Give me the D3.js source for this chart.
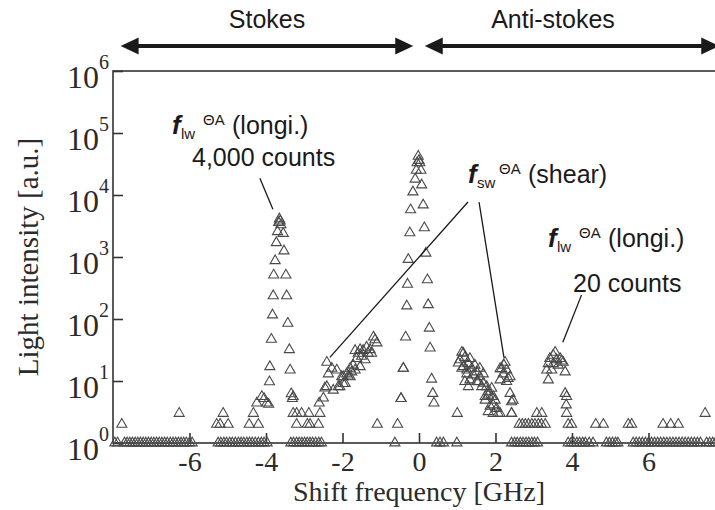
<!DOCTYPE html>
<html>
<head>
<meta charset="utf-8">
<script src="https://cdn.jsdelivr.net/npm/d3@7"></script>
<style>
  html, body { margin: 0; padding: 0; background: #fff; }
  svg { display: block; }
</style>
</head>
<body>
<svg id="chart" width="715" height="510"></svg>
<script>
// ---- Brillouin spectrum: [shift (GHz), light intensity (counts)] ----

// detector floor (1 count) on the Stokes side
const stokesFloor = [
  [-7.95,1],[-7.88,1],[-7.7,1],[-7.63,1],[-7.56,1],[-7.49,1],[-7.42,1],[-7.35,1],[-7.28,1],[-7.21,1],
  [-7.14,1],[-7.07,1],[-7.0,1],[-6.93,1],[-6.86,1],[-6.79,1],[-6.72,1],[-6.65,1],[-6.58,1],[-6.5,1],
  [-6.43,1],[-6.36,1],[-6.29,1],[-6.22,1],[-6.15,1],[-6.08,1],[-6.0,1],[-5.93,1],
  [-5.25,1],[-5.18,1],[-5.1,1],[-5.03,1],[-4.95,1],[-4.88,1],[-4.8,1],[-4.72,1],[-4.65,1],[-4.58,1],
  [-4.5,1],[-4.43,1],[-4.36,1],[-4.28,1],[-4.2,1],[-4.12,1],[-4.05,1],[-3.97,1],
  [-3.35,1],[-3.28,1],[-3.2,1],[-3.13,1],[-3.06,1],[-2.99,1],[-2.92,1],[-2.85,1],[-2.78,1],[-2.7,1],
  [-2.62,1],[-2.55,1],[-0.63,1]
];

// detector floor (1 count) on the anti-Stokes side
const antiFloor = [
  [0.46,1],[0.55,1],[0.64,1],[0.99,1],
  [2.42,1],[2.5,1],[2.57,1],[2.65,1],[2.72,1],[2.8,1],[2.87,1],[2.95,1],[3.02,1],[3.1,1],
  [3.9,1],[3.98,1],[4.05,1],[4.13,1],[4.2,1],[4.28,1],[4.35,1],[4.45,1],[4.55,1],
  [4.9,1],[4.98,1],[5.06,1],[5.14,1],[5.2,1],
  [5.6,1],[5.68,1],[5.76,1],[5.84,1],[5.92,1],[6.0,1],[6.08,1],[6.16,1],[6.24,1],[6.32,1],
  [6.4,1],[6.48,1],[6.56,1],[6.64,1],[6.72,1],[6.8,1],[6.88,1],[6.96,1],[7.04,1],[7.12,1],
  [7.2,1],[7.28,1],[7.36,1],[7.52,1],[7.6,1],[7.68,1],[7.75,1]
];

// isolated low-count samples (2-3 counts)
const noiseCounts = [
  [-7.77,2],[-6.27,3],[-5.29,2],[-5.2,2],[-5.12,3],[-4.99,2],[-4.44,2],[-4.33,3],[-4.2,2],
  [-3.29,3],[-3.2,3],[-3.2,2],[-3.07,3],[-2.92,2],[-2.88,3],[-2.85,2],[-2.63,2],[-2.59,3],
  [-1.09,2],[-0.56,2],
  [1.0,3],[1.94,3],[2.12,3],[2.42,3],[2.42,3],
  [2.62,2],[2.7,2],[2.78,2],[2.86,2],[2.95,2],[3.03,2],[3.12,2],[3.2,2],[3.3,2],[3.08,3],[3.21,3],
  [3.86,3],[3.9,2],[3.99,2],[4.62,2],[4.82,2],[5.47,2],[5.56,2],[6.38,2],[6.58,2],[6.78,2],[7.48,3]
];

// Stokes longitudinal-wave peak (about 4,000 counts)
const stokesLongi = [
  [-4.24,4.4],[-4.11,5.6],[-4.05,5.2],[-3.98,4.4],[-3.93,4.2],[-3.91,9.7],[-3.9,17],[-3.86,47],
  [-3.83,116],[-3.81,237],[-3.8,510],[-3.76,870],[-3.73,1700],[-3.7,2560],[-3.67,3600],[-3.65,4100],
  [-3.63,3800],[-3.61,3300],[-3.55,2400],[-3.53,1250],[-3.48,510],[-3.46,237],[-3.43,85],[-3.39,32],
  [-3.37,15],[-3.34,6.2],[-3.31,5.2],[-3.29,5.6]
];

// Stokes shear-wave shoulder
const stokesShear = [
  [-2.61,4.4],[-2.5,5.3],[-2.46,7.7],[-2.41,20],[-2.41,8.1],[-2.37,13],[-2.28,16],[-2.24,7.1],
  [-2.15,15],[-2.11,8.1],[-2.07,8.1],[-2.02,11.7],[-1.98,9.1],[-1.98,11.7],[-1.93,9.1],[-1.89,13],
  [-1.85,12],[-1.8,16],[-1.8,11.7],[-1.76,14],[-1.72,18],[-1.67,15],[-1.67,31],[-1.63,23],
  [-1.59,28],[-1.54,17],[-1.54,32],[-1.5,25],[-1.46,31],[-1.41,22],[-1.37,35],[-1.33,28],
  [-1.28,32],[-1.24,28],[-1.19,51],[-1.15,46],[-1.1,41]
];

// elastic (Rayleigh) line at zero shift
const rayleigh = [
  [-0.47,5.2],[-0.47,5.2],[-0.41,16],[-0.41,16],[-0.35,51],[-0.32,162],[-0.3,363],[-0.28,912],
  [-0.24,2450],[-0.22,5750],[-0.16,11200],[-0.1,18000],[-0.07,25000],[-0.05,33000],[-0.02,42000],
  [0.0,36000],[0.02,33000],[0.05,25000],[0.07,14500],[0.11,6900],[0.14,2950],[0.18,1150],
  [0.22,427],[0.24,170],[0.27,71],[0.29,34],[0.33,10.7],[0.36,6.3],[0.39,4.4]
];

// anti-Stokes shear-wave band
const antiShear = [
  [1.03,19.5],[1.07,22],[1.12,29],[1.12,16],[1.16,28],[1.16,17],[1.2,24],[1.2,9.8],[1.25,13],
  [1.25,15],[1.29,19],[1.29,8.1],[1.33,10.4],[1.33,23],[1.38,16],[1.42,12.5],[1.46,18],[1.51,14],
  [1.51,9.8],[1.55,9.7],[1.59,11.7],[1.59,16],[1.64,8.1],[1.68,9.2],[1.68,13],[1.73,5.6],[1.73,4.9],
  [1.77,8.1],[1.81,6.7],[1.81,5.9],[1.81,3.2],[1.86,3.9],[1.9,5.6],[1.9,7.6],[1.94,4.1],[1.94,5.6],
  [1.99,4.9],[2.03,3.6],[2.07,3],[2.12,10.4],[2.12,15.8],[2.16,15.8],[2.2,13],[2.22,18],[2.25,20],
  [2.29,15],[2.29,9.8],[2.33,11],[2.38,11.7],[2.38,6.3],[2.42,4.6],[2.46,4.9]
];

// anti-Stokes longitudinal-wave peak (about 20 counts)
const antiLongi = [
  [3.34,15],[3.38,19],[3.38,10.4],[3.42,23],[3.47,15],[3.51,26],[3.51,19],[3.56,29],[3.6,22],
  [3.64,18],[3.69,23],[3.73,21],[3.77,20],[3.82,14],[3.82,6.3],[3.86,5.6],[3.85,4.1]
];

// axis ticks
const xTicks = [-6, -4, -2, 0, 2, 4, 6];
const yExponents = [0, 1, 2, 3, 4, 5, 6];

// leader lines: [from shift, from counts, to shift, to counts]
const leaders = [
  [-4.16, 18700, -3.82, 5900],
  [1.28, 7700, -2.33, 24],
  [1.57, 7700, 2.22, 24],
  [4.25, 245, 3.76, 42]
];

// ---- drawing ----
const svg = d3.select("#chart");
const x = d3.scaleLinear().domain([-8, 8]).range([113, 725]);
const y = d3.scaleLog().domain([1, 1e6]).range([443, 71]);

const serif = "'Liberation Serif', 'Times New Roman', serif";
const sans = "'Liberation Sans', Arial, Helvetica, sans-serif";
const ink = "#2b2b2b";

// plot frame
svg.append("rect")
  .attr("x", x(-8)).attr("y", y(1e6))
  .attr("width", x(8) - x(-8)).attr("height", y(1) - y(1e6))
  .attr("fill", "none").attr("stroke", "#333").attr("stroke-width", 1.6);

// bottom axis, inward ticks
const gx = svg.append("g")
  .attr("transform", `translate(0,${y(1)})`)
  .call(d3.axisBottom(x).tickValues(xTicks).tickSize(-10).tickSizeOuter(0)
    .tickFormat(d => (d < 0 ? "-" : "") + Math.abs(d)));
gx.select(".domain").remove();
gx.selectAll(".tick line").attr("stroke", "#333").attr("stroke-width", 1.6);
gx.selectAll(".tick text")
  .attr("y", 28).attr("dy", 0)
  .attr("font-family", serif).attr("font-size", 28).attr("fill", ink);

// left axis, inward ticks, labels as powers of ten
const gy = svg.append("g")
  .attr("transform", `translate(${x(-8)},0)`)
  .call(d3.axisLeft(y).tickValues(yExponents.map(e => Math.pow(10, e)))
    .tickSize(-10).tickSizeOuter(0).tickFormat(""));
gy.select(".domain").remove();
gy.selectAll(".tick line").attr("stroke", "#333").attr("stroke-width", 1.6);

const yLab = svg.append("g").attr("font-family", serif).attr("fill", ink);
yExponents.forEach(e => {
  const ty = y(Math.pow(10, e));
  yLab.append("text").attr("x", 99).attr("y", ty + 17)
    .attr("text-anchor", "end").attr("font-size", 32).text("10");
  yLab.append("text").attr("x", 99).attr("y", ty - 2)
    .attr("font-size", 20).text(e);
});

// axis titles
svg.append("text")
  .attr("x", x(0)).attr("y", 501)
  .attr("text-anchor", "middle").attr("font-family", serif).attr("font-size", 28)
  .attr("fill", ink).text("Shift frequency [GHz]");
svg.append("text")
  .attr("transform", `translate(38,${(y(1) + y(1e6)) / 2}) rotate(-90)`)
  .attr("text-anchor", "middle").attr("font-family", serif).attr("font-size", 29)
  .attr("fill", ink).text("Light intensity [a.u.]");

// spectrum markers
const tri = d3.symbol().type(d3.symbolTriangle).size(44);
const allPoints = [].concat(stokesFloor, antiFloor, noiseCounts, stokesLongi,
  stokesShear, rayleigh, antiShear, antiLongi);
svg.append("g").selectAll("path")
  .data(allPoints)
  .join("path")
  .attr("d", tri)
  .attr("transform", d => `translate(${x(d[0])},${y(d[1])})`)
  .attr("fill", "none").attr("stroke", "#4a4a4a").attr("stroke-width", 1.1);

// leader lines
svg.append("g").selectAll("line")
  .data(leaders)
  .join("line")
  .attr("x1", d => x(d[0])).attr("y1", d => y(d[1]))
  .attr("x2", d => x(d[2])).attr("y2", d => y(d[3]))
  .attr("stroke", "#1a1a1a").attr("stroke-width", 1.3);

// annotation labels: f with subscript and ΘA superscript
function modeLabel(px, py, sub, tail) {
  const g = svg.append("g").attr("font-family", sans).attr("fill", "#1a1a1a");
  g.append("text").attr("x", px).attr("y", py)
    .attr("font-size", 26).attr("font-style", "italic").attr("font-weight", "bold").text("f");
  g.append("text").attr("x", px + 9).attr("y", py + 5)
    .attr("font-size", 15).text(sub);
  g.append("text").attr("x", px + 31).attr("y", py - 9)
    .attr("font-size", 15).text("\u0398A");
  g.append("text").attr("x", px + 60).attr("y", py)
    .attr("font-size", 25).text(tail);
}
modeLabel(172, 134, "lw", "(longi.)");
modeLabel(468, 183, "sw", "(shear)");
modeLabel(548, 247, "lw", "(longi.)");

svg.append("text").attr("x", 192).attr("y", 166)
  .attr("font-family", sans).attr("font-size", 25).attr("fill", "#1a1a1a").text("4,000 counts");
svg.append("text").attr("x", 573).attr("y", 292)
  .attr("font-family", sans).attr("font-size", 25).attr("fill", "#1a1a1a").text("20 counts");

// Stokes / anti-Stokes ranges with double-headed arrows
const ranges = [
  { label: "Stokes", from: -7.8, to: -0.15, cx: 267 },
  { label: "Anti-stokes", from: 0.15, to: 7.85, cx: 553 }
];
const arrowY = 46;
ranges.forEach(r => {
  const x1 = x(r.from), x2 = x(r.to), head = 18, hw = 8.5;
  svg.append("line")
    .attr("x1", x1 + head - 2).attr("x2", x2 - head + 2)
    .attr("y1", arrowY).attr("y2", arrowY)
    .attr("stroke", "#1a1a1a").attr("stroke-width", 4);
  svg.append("path")
    .attr("d", `M${x1},${arrowY}L${x1 + head},${arrowY - hw}L${x1 + head},${arrowY + hw}Z`)
    .attr("fill", "#1a1a1a");
  svg.append("path")
    .attr("d", `M${x2},${arrowY}L${x2 - head},${arrowY - hw}L${x2 - head},${arrowY + hw}Z`)
    .attr("fill", "#1a1a1a");
  svg.append("text").attr("x", r.cx).attr("y", 28)
    .attr("text-anchor", "middle").attr("font-family", sans).attr("font-size", 25)
    .attr("fill", "#1a1a1a").text(r.label);
});
</script>
</body>
</html>
